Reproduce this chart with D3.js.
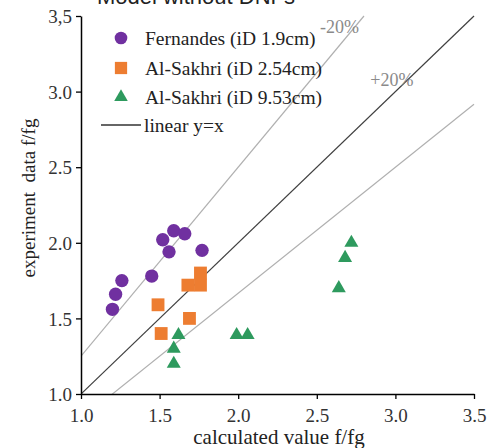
<!DOCTYPE html>
<html>
<head>
<meta charset="utf-8">
<script src="https://cdn.jsdelivr.net/npm/d3@7"></script>
<style>
  html, body { margin: 0; padding: 0; background: #fff; }
  svg { display: block; }
</style>
</head>
<body>
<svg id="chart" width="489" height="448"></svg>
<script>
// Fernandes (iD 1.9cm): calculated vs. experimental f/fg
const fernandesCalc = [1.20, 1.22, 1.26, 1.45, 1.52, 1.56, 1.59, 1.66, 1.77];
const fernandesExp  = [1.56, 1.66, 1.75, 1.78, 2.02, 1.94, 2.08, 2.06, 1.95];

// Al-Sakhri (iD 2.54cm)
const sakhri254Calc = [1.49, 1.51, 1.69, 1.68, 1.76, 1.76];
const sakhri254Exp  = [1.59, 1.40, 1.50, 1.72, 1.80, 1.72];

// Al-Sakhri (iD 9.53cm)
const sakhri953Calc = [1.62, 1.59, 1.59, 1.99, 2.06, 2.64, 2.68, 2.72];
const sakhri953Exp  = [1.39, 1.30, 1.20, 1.39, 1.39, 1.70, 1.90, 2.00];

// Axis ticks and labels
const xTicks = [1.0, 1.5, 2.0, 2.5, 3.0, 3.5];
const xTickLabels = ["1.0", "1.5", "2.0", "2.5", "3.0", "3.5"];
const yTicks = [1.0, 1.5, 2.0, 2.5, 3.0, 3.5];
const yTickLabels = ["1.0", "1.5", "2.0", "2.5", "3.0", "3,5"];

// Reference lines: y = x, and the ±20% band (y = x/0.8, y = x/1.2)
const refFactors = [1 / 0.8, 1, 1 / 1.2];

const seriesNames = ["Fernandes (iD 1.9cm)", "Al-Sakhri (iD 2.54cm)", "Al-Sakhri (iD 9.53cm)"];

const svg = d3.select("#chart");
const plotLeft = 81, plotRight = 474, plotTop = 16, plotBottom = 394;

const x = d3.scaleLinear().domain([1, 3.5]).range([plotLeft, plotRight]);
const y = d3.scaleLinear().domain([1, 3.5]).range([plotBottom, plotTop]);

const serif = "'Liberation Serif', 'Times New Roman', serif";

// Title (runs off the top edge)
svg.append("text")
  .attr("x", 196).attr("y", 4)
  .attr("text-anchor", "middle")
  .style("font-family", "'Liberation Sans', Arial, sans-serif")
  .style("font-size", "22px")
  .attr("fill", "#222")
  .text("Model without DNFs");

// Reference lines, clipped to the plot box
svg.append("clipPath").attr("id", "plotClip")
  .append("rect").attr("x", plotLeft).attr("y", plotTop - 1)
  .attr("width", plotRight - plotLeft + 1).attr("height", plotBottom - plotTop + 1);

const gLines = svg.append("g").attr("clip-path", "url(#plotClip)");
refFactors.forEach(k => {
  const xEnd = Math.min(3.5, 3.5 / k);
  gLines.append("line")
    .attr("x1", x(1)).attr("y1", y(k * 1))
    .attr("x2", x(xEnd)).attr("y2", y(k * xEnd))
    .attr("stroke", k === 1 ? "#404040" : "#b0b0b0")
    .attr("stroke-width", 1.2);
});

// Band labels
svg.append("text").attr("x", x(2.52)).attr("y", y(3.39))
  .style("font-family", serif).style("font-size", "18px").attr("fill", "#8a8a8a")
  .text("-20%");
svg.append("text").attr("x", x(2.84)).attr("y", y(3.04))
  .style("font-family", serif).style("font-size", "18px").attr("fill", "#8a8a8a")
  .text("+20%");

// Axes
const xAxis = d3.axisBottom(x).tickValues(xTicks).tickSize(5).tickSizeOuter(0)
  .tickFormat((d, i) => xTickLabels[i]);
const yAxis = d3.axisLeft(y).tickValues(yTicks).tickSize(5).tickSizeOuter(0)
  .tickFormat((d, i) => yTickLabels[i]);

const gx = svg.append("g").attr("transform", `translate(0,${plotBottom})`).call(xAxis);
const gy = svg.append("g").attr("transform", `translate(${plotLeft},0)`).call(yAxis);

[gx, gy].forEach(g => {
  g.select(".domain").attr("stroke", "#000").attr("stroke-width", 1.5);
  g.selectAll(".tick line").attr("stroke", "#000").attr("stroke-width", 1.3);
  g.selectAll(".tick text")
    .style("font-family", serif).style("font-size", "19px").attr("fill", "#333");
});
gx.selectAll(".tick text").attr("dy", null).attr("y", 28);
gy.selectAll(".tick text").attr("x", -9).attr("dy", "0.35em");

// Axis titles
svg.append("text")
  .attr("x", 279).attr("y", 444)
  .attr("text-anchor", "middle")
  .style("font-family", serif).style("font-size", "21px").attr("fill", "#222")
  .text("calculated value f/fg");

svg.append("text")
  .attr("transform", "translate(35,198) rotate(-90)")
  .attr("text-anchor", "middle")
  .style("font-family", serif).style("font-size", "19px").attr("fill", "#222")
  .style("white-space", "pre")
  .text("experiment  data f/fg");

// Markers
const colors = ["#7030a0", "#ed7d31", "#2e9a5e"];
const circle = d3.symbol().type(d3.symbolCircle).size(140);
const square = d3.symbol().type(d3.symbolSquare).size(165);
const triangle = d3.symbol().type(d3.symbolTriangle).size(85);

const gPts = svg.append("g");
gPts.selectAll(".p953").data(d3.zip(sakhri953Calc, sakhri953Exp)).join("path")
  .attr("class", "p953")
  .attr("d", triangle).attr("fill", colors[2])
  .attr("transform", d => `translate(${x(d[0])},${y(d[1])})`);
gPts.selectAll(".p254").data(d3.zip(sakhri254Calc, sakhri254Exp)).join("path")
  .attr("class", "p254")
  .attr("d", square).attr("fill", colors[1])
  .attr("transform", d => `translate(${x(d[0])},${y(d[1])})`);
gPts.selectAll(".pf").data(d3.zip(fernandesCalc, fernandesExp)).join("path")
  .attr("class", "pf")
  .attr("d", circle).attr("fill", colors[0])
  .attr("transform", d => `translate(${x(d[0])},${y(d[1])})`);

// Legend
const legend = svg.append("g");
const legendRows = [38, 68, 97];
const legendSymbols = [
  d3.symbol().type(d3.symbolCircle).size(125),
  d3.symbol().type(d3.symbolSquare).size(150),
  d3.symbol().type(d3.symbolTriangle).size(80)
];
seriesNames.forEach((name, i) => {
  legend.append("path").attr("d", legendSymbols[i]).attr("fill", colors[i])
    .attr("transform", `translate(121,${legendRows[i]})`);
  legend.append("text").attr("x", 145).attr("y", legendRows[i]).attr("dy", "0.35em")
    .style("font-family", serif).style("font-size", "19.5px").attr("fill", "#222")
    .text(name);
});
legend.append("line").attr("x1", 101).attr("x2", 141).attr("y1", 125).attr("y2", 125)
  .attr("stroke", "#333").attr("stroke-width", 1.3);
legend.append("text").attr("x", 144).attr("y", 125).attr("dy", "0.35em")
  .style("font-family", serif).style("font-size", "19.5px").attr("fill", "#222")
  .text("linear y=x");
</script>
</body>
</html>
